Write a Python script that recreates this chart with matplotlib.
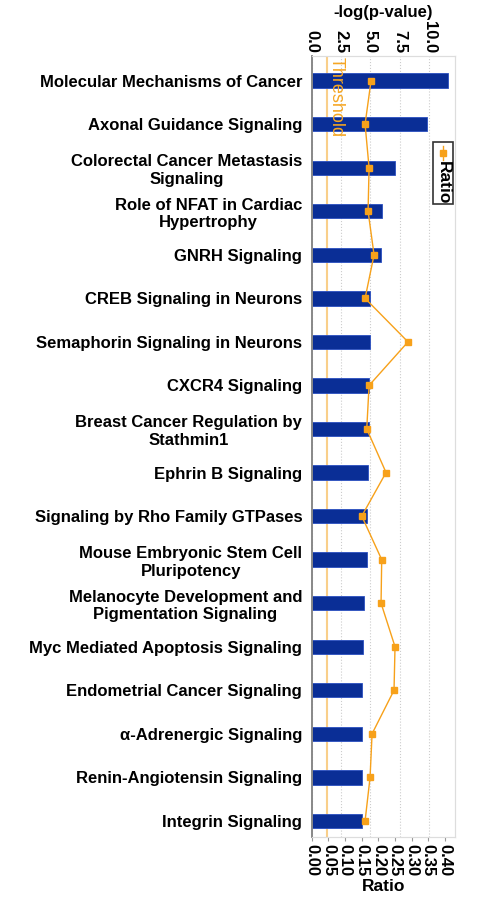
import matplotlib.pyplot as plt
from matplotlib.patches import Rectangle

plt.rcParams['font.family'] = ['Liberation Sans', 'DejaVu Sans']

# pathways, top to bottom
pathways = [
    "Molecular Mechanisms of Cancer",
    "Axonal Guidance Signaling",
    "Colorectal Cancer Metastasis\nSignaling",
    "Role of NFAT in Cardiac\nHypertrophy",
    "GNRH Signaling",
    "CREB Signaling in Neurons",
    "Semaphorin Signaling in Neurons",
    "CXCR4 Signaling",
    "Breast Cancer Regulation by\nStathmin1",
    "Ephrin B Signaling",
    "Signaling by Rho Family GTPases",
    "Mouse Embryonic Stem Cell\nPluripotency",
    "Melanocyte Development and\nPigmentation Signaling",
    "Myc Mediated Apoptosis Signaling",
    "Endometrial Cancer Signaling",
    "\u03b1-Adrenergic Signaling",
    "Renin-Angiotensin Signaling",
    "Integrin Signaling",
]
neglogp = [11.6, 9.8, 7.1, 5.95, 5.9, 5.0, 5.0, 4.9, 4.9, 4.8,
           4.7, 4.7, 4.45, 4.35, 4.3, 4.3, 4.3, 4.3]
ratio = [0.178, 0.160, 0.172, 0.169, 0.187, 0.160, 0.289, 0.172, 0.165, 0.223,
         0.150, 0.210, 0.208, 0.250, 0.247, 0.181, 0.175, 0.160]
threshold = 1.3

p_ticks = [0.0, 2.5, 5.0, 7.5, 10.0]
r_ticks = [0.00, 0.05, 0.10, 0.15, 0.20, 0.25, 0.30, 0.35, 0.40]

bar_col = '#0a2e96'
org = '#f7a11a'

fig = plt.figure(figsize=(4.95, 9), dpi=100)
ax = fig.add_axes([0.630, 0.070, 0.289, 0.868])
ax2 = ax.twiny()
y = list(range(len(pathways)))

# bars on -log(p) axis (top)
ax.barh(y, neglogp, height=0.33, color=bar_col, edgecolor='#2a4fc0', linewidth=0.6, zorder=2)
ax.axvline(threshold, color='#f9cf8a', lw=1.5, zorder=1)
ax.text(threshold + 0.05, -0.55, 'Threshold', rotation=-90, color='#f5a623',
        fontsize=13, ha='left', va='top', zorder=3)
ax.set_xlim(0, 12.2)
ax.set_ylim(len(pathways) - 0.63, -0.57)
ax.xaxis.tick_top()
ax.xaxis.set_label_position('top')
ax.set_xticks(p_ticks)
ax.set_xticklabels(['%.1f' % t for t in p_ticks], rotation=-90, fontsize=12, fontweight='bold')
ax.set_xlabel('-log(p-value)', fontsize=12, fontweight='bold', labelpad=3)
ax.grid(axis='x', color='#cccccc', linestyle=':', lw=0.8, zorder=0)
ax.set_yticks(y)
ax.set_yticklabels(pathways, fontsize=12, fontweight='bold', ha='right', multialignment='center')
ax.tick_params(axis='y', length=0, pad=7)
ax.tick_params(axis='x', length=0, pad=2)

# ratio line on bottom axis
ax2.plot(ratio, y, color=org, lw=1, marker='s', markersize=5,
         markerfacecolor=org, markeredgecolor=org, zorder=4)
ax2.set_xlim(0, 0.43)
ax2.xaxis.tick_bottom()
ax2.xaxis.set_label_position('bottom')
ax2.set_xticks(r_ticks)
ax2.set_xticklabels(['%.2f' % t for t in r_ticks], rotation=-90, fontsize=12, fontweight='bold')
ax2.set_xlabel('Ratio', fontsize=12.5, fontweight='bold', labelpad=2)
ax2.tick_params(axis='x', length=3, color='#999999', pad=2)

for a in (ax, ax2):
    for s in a.spines.values():
        s.set_color('#dddddd')
    a.spines['left'].set_color('#888888')
    a.spines['left'].set_linewidth(1.2)

# legend drawn by hand (rotated)
fig.patches.append(Rectangle((0.875, 0.773), 0.040, 0.069, transform=fig.transFigure,
                             facecolor='white', edgecolor='#333333', lw=1.2))
fig.lines.append(plt.Line2D([0.895, 0.895], [0.822, 0.838], transform=fig.transFigure,
                            color=org, lw=1))
fig.lines.append(plt.Line2D([0.895], [0.830], transform=fig.transFigure, color=org,
                            marker='s', markersize=5))
fig.text(0.895, 0.821, 'Ratio', rotation=-90, ha='center', va='top',
         fontsize=12.5, fontweight='bold')

fig.savefig('out.png', dpi=100)
